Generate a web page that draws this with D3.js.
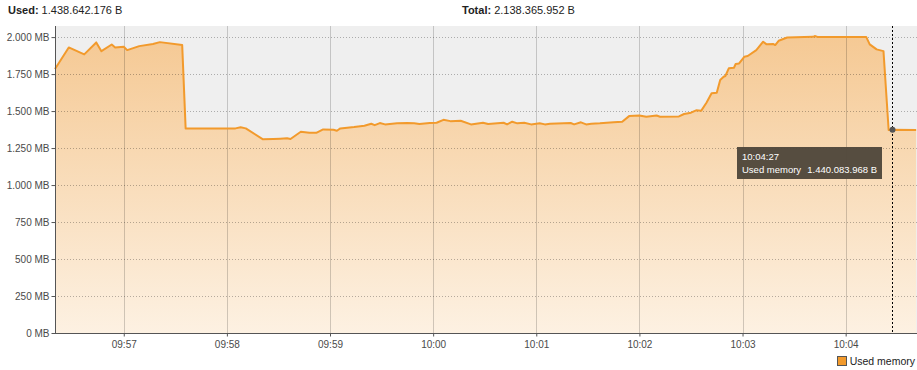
<!DOCTYPE html>
<html>
<head>
<meta charset="utf-8">
<script src="https://cdn.jsdelivr.net/npm/d3@7"></script>
<style>
  body { margin: 0; background: #fff; }
  svg { display: block; font-family: "Liberation Sans", Arial, sans-serif; }
</style>
</head>
<body>
<svg id="chart" width="917" height="370"></svg>
<script>
// sample times (hh:mm:ss) and used heap in MB
var times = ["09:56:20", "09:56:28", "09:56:37", "09:56:44", "09:56:47", "09:56:53", "09:56:55",
    "09:57:00", "09:57:02", "09:57:09", "09:57:17", "09:57:21", "09:57:34", "09:57:36",
    "09:58:05", "09:58:08", "09:58:11", "09:58:21", "09:58:27", "09:58:31", "09:58:35", "09:58:37",
    "09:58:43", "09:58:48", "09:58:52", "09:58:56", "09:59:02", "09:59:04", "09:59:06", "09:59:14",
    "09:59:20", "09:59:24", "09:59:26", "09:59:29", "09:59:32", "09:59:39", "09:59:45", "09:59:49",
    "09:59:52", "09:59:58", "10:00:02", "10:00:06", "10:00:10", "10:00:16", "10:00:22", "10:00:29",
    "10:00:32", "10:00:41", "10:00:43", "10:00:46", "10:00:49", "10:00:53", "10:00:57", "10:01:02",
    "10:01:05", "10:01:08", "10:01:20", "10:01:22", "10:01:26", "10:01:29", "10:01:32", "10:01:37",
    "10:01:45", "10:01:50", "10:01:54", "10:02:00", "10:02:04", "10:02:10", "10:02:12", "10:02:23",
    "10:02:26", "10:02:30", "10:02:33", "10:02:36", "10:02:39", "10:02:42", "10:02:45", "10:02:47",
    "10:02:49", "10:02:50", "10:02:52", "10:02:55", "10:02:56", "10:02:58", "10:03:01", "10:03:03",
    "10:03:08", "10:03:12", "10:03:14", "10:03:18", "10:03:19", "10:03:21", "10:03:26", "10:03:41",
    "10:03:42", "10:03:44", "10:04:12", "10:04:14", "10:04:18", "10:04:22", "10:04:25", "10:04:27",
    "10:04:41"];
var usedMB = [1784, 1930, 1883, 1964, 1905, 1950, 1930,
    1935, 1912, 1939, 1953, 1966, 1946, 1383,
    1383, 1390, 1383, 1309, 1311, 1313, 1316, 1311,
    1360, 1353, 1353, 1376, 1374, 1367, 1383, 1392,
    1401, 1414, 1405, 1419, 1410, 1417, 1419, 1417,
    1412, 1419, 1421, 1441, 1432, 1435, 1410, 1421,
    1412, 1421, 1410, 1428, 1417, 1421, 1410, 1417,
    1410, 1415, 1419, 1410, 1424, 1410, 1415, 1417,
    1424, 1428, 1466, 1470, 1462, 1470, 1462, 1464,
    1480, 1489, 1505, 1503, 1556, 1620, 1624, 1710,
    1732, 1737, 1789, 1793, 1818, 1822, 1867, 1872,
    1912, 1969, 1951, 1953, 1946, 1975, 1997, 2002,
    2007, 2000, 2000, 1951, 1917, 1905, 1372, 1373,
    1372];

var yTicks = [0, 250, 500, 750, 1000, 1250, 1500, 1750, 2000];
var xTicks = ["09:57", "09:58", "09:59", "10:00", "10:01", "10:02", "10:03", "10:04"];
var usedBytes = 1438642176;
var totalBytes = 2138365952;
var hoverTime = "10:04:27";
var hoverBytes = 1440083968;
var seriesName = "Used memory";

var parseTime = d3.timeParse("%H:%M:%S");
var parseTick = d3.timeParse("%H:%M");
var dotFmt = d3.formatLocale({ decimal: ",", thousands: ".", grouping: [3], currency: ["", ""] }).format(",");

var data = times.map(function (t, i) { return { t: parseTime(t), v: usedMB[i] }; });

var svg = d3.select("#chart");
var plotLeft = 55, plotRight = 917, plotTop = 26, plotBottom = 333;

var x = d3.scaleTime()
    .domain([parseTime("09:56:20"), new Date(parseTime("10:04:41").getTime() + 500)])
    .range([plotLeft, plotRight]);
var y = d3.scaleLinear().domain([0, 2075]).range([plotBottom, plotTop]);

// gradient for the area
var defs = svg.append("defs");
var grad = defs.append("linearGradient").attr("id", "fillGrad")
    .attr("gradientUnits", "userSpaceOnUse")
    .attr("x1", 0).attr("x2", 0)
    .attr("y1", y(2000)).attr("y2", plotBottom);
grad.append("stop").attr("offset", "0%").attr("stop-color", "#f5c994");
grad.append("stop").attr("offset", "100%").attr("stop-color", "#fdf1e2");

// plot background
svg.append("rect").attr("x", plotLeft).attr("y", plotTop)
    .attr("width", plotRight - plotLeft).attr("height", plotBottom - plotTop)
    .attr("fill", "#efefef");

var area = d3.area().x(function (d) { return x(d.t); }).y0(plotBottom).y1(function (d) { return y(d.v); });
var line = d3.line().x(function (d) { return x(d.t); }).y(function (d) { return y(d.v); });

svg.append("path").datum(data).attr("d", area).attr("fill", "url(#fillGrad)");

// grid lines over the fill
svg.append("g").selectAll("line").data(yTicks.slice(1)).join("line")
    .attr("x1", plotLeft).attr("x2", plotRight)
    .attr("y1", function (d) { return Math.round(y(d)) + 0.5; })
    .attr("y2", function (d) { return Math.round(y(d)) + 0.5; })
    .attr("stroke", "rgba(0,0,0,0.28)").attr("stroke-dasharray", "1,2");
svg.append("g").selectAll("line").data(xTicks).join("line")
    .attr("x1", function (d) { return Math.round(x(parseTick(d))) + 0.5; })
    .attr("x2", function (d) { return Math.round(x(parseTick(d))) + 0.5; })
    .attr("y1", plotTop).attr("y2", plotBottom)
    .attr("stroke", "rgba(0,0,0,0.18)");

svg.append("path").datum(data).attr("d", line)
    .attr("fill", "none").attr("stroke", "#f29a2c").attr("stroke-width", 2)
    .attr("stroke-linejoin", "round");

// axes
var yAxis = d3.axisLeft(y).tickValues(yTicks).tickSize(4).tickPadding(2)
    .tickFormat(function (d) { return dotFmt(d) + " MB"; });
var gy = svg.append("g").attr("transform", "translate(" + (plotLeft + 0.5) + ",0)").call(yAxis);
gy.select(".domain").attr("d", "M0," + plotTop + "V" + plotBottom).attr("stroke", "#555");

var xAxis = d3.axisBottom(x).tickValues(xTicks.map(parseTick)).tickSize(3).tickPadding(4)
    .tickFormat(d3.timeFormat("%H:%M"));
var gx = svg.append("g").attr("transform", "translate(0," + (plotBottom + 0.5) + ")").call(xAxis);
gx.select(".domain").attr("d", "M" + plotLeft + ",0H" + plotRight).attr("stroke", "#555");

svg.selectAll(".tick line").attr("stroke", "#555");
svg.selectAll(".tick text").attr("fill", "#4a4a4a").attr("font-size", 10)
    .attr("font-family", "Liberation Sans, Arial, sans-serif");

// hover marker
var hx = Math.round(x(parseTime(hoverTime))) + 0.5;
var hv = usedMB[times.indexOf(hoverTime)];
svg.append("line").attr("x1", hx).attr("x2", hx).attr("y1", plotTop).attr("y2", plotBottom)
    .attr("stroke", "#000").attr("stroke-dasharray", "2,2");
svg.append("circle").attr("cx", hx).attr("cy", y(hv)).attr("r", 3).attr("fill", "#555");

// tooltip
var tip = svg.append("g").attr("transform", "translate(737,147)");
tip.append("rect").attr("width", 145).attr("height", 32).attr("fill", "#51483c").attr("opacity", 0.97);
tip.append("text").attr("x", 5).attr("y", 13).attr("fill", "#fff").attr("font-size", 9.5).text(hoverTime);
tip.append("text").attr("x", 5).attr("y", 26).attr("fill", "#fff").attr("font-size", 9.5).text(seriesName);
tip.append("text").attr("x", 140).attr("y", 26).attr("fill", "#fff").attr("font-size", 9.5)
    .attr("text-anchor", "end").text(dotFmt(hoverBytes) + " B");

// header
var h1 = svg.append("text").attr("x", 8).attr("y", 14).attr("font-size", 11).attr("fill", "#222");
h1.append("tspan").attr("font-weight", "bold").text("Used:");
h1.append("tspan").text(" " + dotFmt(usedBytes) + " B");
var h2 = svg.append("text").attr("x", 462).attr("y", 14).attr("font-size", 11).attr("fill", "#222");
h2.append("tspan").attr("font-weight", "bold").text("Total:");
h2.append("tspan").text(" " + dotFmt(totalBytes) + " B");

// legend, right aligned
var legText = svg.append("text").attr("x", 915).attr("y", 365).attr("font-size", 10.5)
    .attr("text-anchor", "end").attr("fill", "#222").text(seriesName);
var legW = legText.node().getComputedTextLength();
svg.append("rect").attr("x", Math.round(915 - legW - 13) + 0.5).attr("y", 356.5)
    .attr("width", 9).attr("height", 9)
    .attr("fill", "#f29a2c").attr("stroke", "#555");
</script>
</body>
</html>
